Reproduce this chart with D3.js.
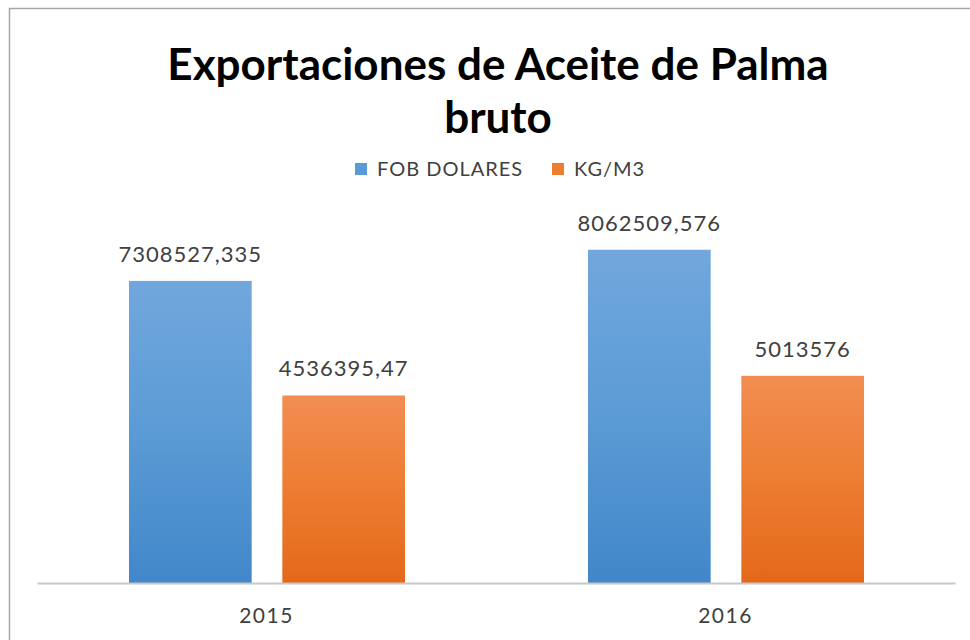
<!DOCTYPE html>
<html>
<head>
<meta charset="utf-8">
<script src="https://cdn.jsdelivr.net/npm/d3@7"></script>
<style>
  body { margin: 0; background: #fff; }
  svg { display: block; }
</style>
</head>
<body>
<div id="chart"></div>
<script>
// Exportaciones de Aceite de Palma bruto
const years = ['2015', '2016']
const seriesNames = ['FOB DOLARES', 'KG/M3']
const fobDolares = [7308527.335, 8062509.576]
const kgM3 = [4536395.47, 5013576]
const valueLabels = [['7308527,335', '8062509,576'], ['4536395,47', '5013576']]

const width = 970
const height = 640
const margin = { top: 211, right: 15, bottom: 57, left: 37 }

const svg = d3.select('#chart')
  .append('svg')
  .attr('width', width)
  .attr('height', height)
  .style('font-family', 'Lato, "Open Sans", sans-serif')

// gradients like the office bar fill
const defs = svg.append('defs')
const gradColours = [
  ['#71a7dd', '#5b9bd5', '#4187c9'],
  ['#f28d52', '#ed7d31', '#e4681b']
]
gradColours.forEach(function (c, i) {
  const g = defs.append('linearGradient')
    .attr('id', 'grad' + i)
    .attr('x1', 0).attr('y1', 0).attr('x2', 0).attr('y2', 1)
  g.append('stop').attr('offset', '0%').attr('stop-color', c[0])
  g.append('stop').attr('offset', '50%').attr('stop-color', c[1])
  g.append('stop').attr('offset', '100%').attr('stop-color', c[2])
})

// frame
svg.append('path')
  .attr('d', 'M9.5,' + height + 'V8.5H' + width)
  .attr('fill', 'none')
  .attr('stroke', '#a6a6a6')
  .attr('stroke-width', 1.5)

// title
const title = svg.append('text')
  .attr('text-anchor', 'middle')
  .attr('font-weight', 'bold')
  .attr('font-size', 44)
  .attr('fill', '#000')
title.append('tspan').attr('x', 498).attr('y', 80).text('Exportaciones de Aceite de Palma')
title.append('tspan').attr('x', 498).attr('y', 133).text('bruto')

// scales
const x0 = d3.scaleBand()
  .domain(years)
  .range([margin.left, width - margin.right])

const x1 = d3.scaleBand()
  .domain(seriesNames)
  .range([92, 368])
  .paddingInner(0.2)

const y = d3.scaleLinear()
  .domain([0, 9000000])
  .range([height - margin.bottom, margin.top])

const data = [fobDolares, kgM3]

// bars
const groups = svg.append('g')
  .selectAll('g')
  .data(years)
  .enter().append('g')
  .attr('transform', function (d) { return 'translate(' + x0(d) + ',0)' })

function rows (d, i) {
  return seriesNames.map(function (s, j) { return { s: s, j: j, v: data[j][i], label: valueLabels[j][i] } })
}

groups.selectAll('rect')
  .data(rows)
  .enter().append('rect')
  .attr('x', function (d) { return x1(d.s) })
  .attr('y', function (d) { return y(d.v) })
  .attr('width', x1.bandwidth())
  .attr('height', function (d) { return y(0) - y(d.v) })
  .attr('fill', function (d) { return 'url(#grad' + d.j + ')' })

groups.selectAll('text')
  .data(rows)
  .enter().append('text')
  .attr('x', function (d) { return x1(d.s) + x1.bandwidth() / 2 })
  .attr('y', function (d) { return y(d.v) - 19 })
  .attr('text-anchor', 'middle')
  .attr('font-size', 22)
  .attr('letter-spacing', 1)
  .attr('fill', '#404040')
  .text(function (d) { return d.label })

// x axis
const xAxis = svg.append('g')
  .attr('transform', 'translate(0,' + y(0) + ')')
  .call(d3.axisBottom(x0).tickSize(0).tickPadding(25))
xAxis.select('.domain')
  .attr('stroke', '#c8c8c8')
  .attr('stroke-width', 2)
xAxis.selectAll('text')
  .attr('font-size', 21)
  .attr('letter-spacing', 1.5)
  .attr('font-family', 'Lato, "Open Sans", sans-serif')
  .attr('fill', '#404040')

// legend
const legendX = [355, 552]
const legend = svg.append('g')
  .selectAll('g')
  .data(seriesNames)
  .enter().append('g')
  .attr('transform', function (d, i) { return 'translate(' + legendX[i] + ',163)' })
legend.append('rect')
  .attr('width', 12)
  .attr('height', 12)
  .attr('fill', function (d, i) { return gradColours[i][1] })
legend.append('text')
  .attr('x', 22)
  .attr('y', 13)
  .attr('font-size', 20)
  .attr('letter-spacing', 1)
  .attr('fill', '#404040')
  .text(function (d) { return d })
</script>
</body>
</html>
